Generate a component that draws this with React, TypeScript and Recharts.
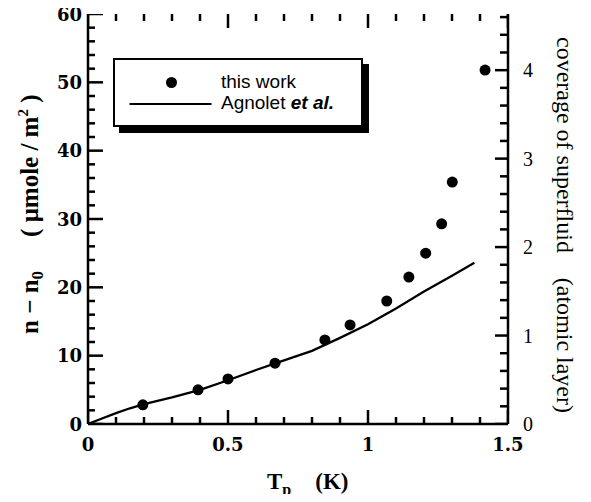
import React from "react";
import { ScatterChart, Scatter, XAxis, YAxis, Legend, Label } from "recharts";

// ---- data ----
const thisWorkT = [0.196, 0.393, 0.5, 0.668, 0.846, 0.936, 1.067, 1.146, 1.206, 1.263, 1.301, 1.418];
const thisWorkN = [2.8, 5.0, 6.6, 8.9, 12.3, 14.5, 18.0, 21.5, 25.0, 29.3, 35.4, 51.8];

const agnoletT = [0, 0.05, 0.1, 0.15, 0.2, 0.3, 0.4, 0.5, 0.6, 0.7, 0.8, 0.9, 1.0, 1.1, 1.2, 1.3, 1.38];
const agnoletN = [0, 0.8, 1.6, 2.3, 2.9, 3.9, 5.0, 6.4, 7.9, 9.3, 10.7, 12.6, 14.6, 16.9, 19.4, 21.7, 23.6];

const xTicks = [0, 0.1, 0.2, 0.3, 0.4, 0.5, 0.6, 0.7, 0.8, 0.9, 1.0, 1.1, 1.2, 1.3, 1.4, 1.5];
const xLabels = [0, 0.5, 1, 1.5];
const leftTicks = [0, 2, 4, 6, 8, 10, 12, 14, 16, 18, 20, 22, 24, 26, 28, 30, 32, 34, 36, 38, 40, 42, 44, 46, 48, 50, 52, 54, 56, 58, 60];
const leftLabels = [0, 10, 20, 30, 40, 50, 60];
const rightTicks = [0, 0.2, 0.4, 0.6, 0.8, 1, 1.2, 1.4, 1.6, 1.8, 2, 2.2, 2.4, 2.6, 2.8, 3, 3.2, 3.4, 3.6, 3.8, 4, 4.2, 4.4, 4.6];
const rightLabels = [0, 1, 2, 3, 4];
const X_MIN = 0;
const X_MAX = 1.5;
const Y_MIN = 0;
const Y_MAX = 60;
const RIGHT_MAX = 4.635; // atomic layers corresponding to 60 µmole/m²

const thisWork = thisWorkT.map((t, i) => ({ t, n: thisWorkN[i] }));
const agnolet = agnoletT.map((t, i) => ({ t, n: agnoletN[i] }));

// inward tick marks, positioned through the axis scales
const bottomMarks = xTicks.map((t) => ({ t, n: Y_MIN, major: xLabels.some((a) => Math.abs(a - t) < 1e-6) }));
const topMarks = xTicks.map((t) => ({ t, n: Y_MAX, major: xLabels.some((a) => Math.abs(a - t) < 1e-6) }));
const leftMarks = leftTicks.map((n) => ({ t: X_MIN, n, major: leftLabels.includes(n) }));
const rightMarks = rightTicks.map((r) => ({ t: X_MAX, r, major: rightLabels.some((a) => Math.abs(a - r) < 1e-6) }));

const SERIF = "'Liberation Serif', 'Times New Roman', serif";
const WIDE_SERIF = "'DejaVu Serif', serif";
const SANS = "'Liberation Sans', Arial, Helvetica, sans-serif";
const INK = "black";

const isIn = (v: number, arr: number[]) => arr.some((a) => Math.abs(a - v) < 1e-6);

const BottomTick = (props: any) => {
  const x = Number(props.x);
  const y = Number(props.y);
  const v = props.payload.value;
  if (!isIn(v, xLabels)) return <g />;
  return (
    <text x={x} y={y + 27} textAnchor="middle" fontFamily={WIDE_SERIF} fontWeight="bold" fontSize={18} fill={INK}>
      {String(xLabels.find((a) => Math.abs(a - v) < 1e-6))}
    </text>
  );
};

const LeftTick = (props: any) => {
  const x = Number(props.x);
  const y = Number(props.y);
  const v = props.payload.value;
  if (!isIn(v, leftLabels)) return <g />;
  return (
    <text x={x - 6} y={y + 6.5} textAnchor="end" fontFamily={WIDE_SERIF} fontWeight="bold" fontSize={18} fill={INK}>
      {String(v)}
    </text>
  );
};

const RightTick = (props: any) => {
  const x = Number(props.x);
  const y = Number(props.y);
  const v = props.payload.value;
  if (!isIn(v, rightLabels)) return <g />;
  return (
    <text x={x + 15} y={y + 7} textAnchor="start" fontFamily={SERIF} fontSize={20} fill={INK}>
      {String(Math.round(v))}
    </text>
  );
};

const BottomMark = (props: any) => {
  const { cx, cy, payload } = props;
  const len = payload && payload.major ? 14 : 7;
  return <path d={`M${cx},${cy} L${cx},${cy - len}`} stroke={INK} strokeWidth={2.5} />;
};
const TopMark = (props: any) => {
  const { cx, cy, payload } = props;
  const len = payload && payload.major ? 14 : 7;
  return <path d={`M${cx},${cy} L${cx},${cy + len}`} stroke={INK} strokeWidth={2.5} />;
};
const LeftMark = (props: any) => {
  const { cx, cy, payload } = props;
  const len = payload && payload.major ? 15 : 7;
  return <path d={`M${cx},${cy} L${cx + len},${cy}`} stroke={INK} strokeWidth={2.5} />;
};
const RightMark = (props: any) => {
  const { cx, cy, payload } = props;
  const len = payload && payload.major ? 13 : 8;
  return <path d={`M${cx},${cy} L${cx - len},${cy}`} stroke={INK} strokeWidth={2.5} />;
};

const LeftTitle = () => (
  <text
    x={38}
    y={334}
    transform="rotate(-90, 38, 334)"
    textAnchor="start"
    fontFamily={SERIF}
    fontWeight="bold"
    fontSize={25}
    fill={INK}
    style={{ whiteSpace: "pre" }}
  >
    <tspan>{"n − n"}</tspan>
    <tspan fontSize={17} dy={5}>0</tspan>
    <tspan dy={-5} dx={34}>{"( μmole / m"}</tspan>
    <tspan fontSize={15} dy={-10}>2</tspan>
    <tspan dy={10}>{" )"}</tspan>
  </text>
);

const RightTitle = () => (
  <g fontFamily={SERIF} fontSize={24} fill={INK}>
    <text x={557} y={37} transform="rotate(90, 557, 37)" textAnchor="start">
      coverage of superfluid
    </text>
    <text x={557} y={413} transform="rotate(90, 557, 413)" textAnchor="end">
      (atomic layer)
    </text>
  </g>
);

const XTitle = () => (
  <text x={267} y={489} textAnchor="start" fontFamily={SERIF} fontWeight="bold" fontSize={23} fill={INK} style={{ whiteSpace: "pre" }}>
    <tspan>T</tspan>
    <tspan fontSize={16} dy={6}>p</tspan>
    <tspan dy={-6} dx={24}>(K)</tspan>
  </text>
);

const LegendBox = () => (
  <div
    style={{
      position: "relative",
      boxSizing: "border-box",
      width: 250,
      height: 69,
      border: "2.5px solid #000",
      boxShadow: "6px 6px 0 #000",
      background: "#fff",
    }}
  >
    <svg width={245} height={64} style={{ position: "absolute", left: 0, top: 0 }}>
      <circle cx={56.5} cy={22.5} r={5.5} fill={INK} />
      <path d="M14.5,44 L96.5,44" stroke={INK} strokeWidth={2.2} fill="none" />
    </svg>
    <div style={{ position: "absolute", left: 106, top: 12, fontFamily: SANS, fontSize: 19, lineHeight: "20px", color: "#000", whiteSpace: "nowrap" }}>
      this work
    </div>
    <div style={{ position: "absolute", left: 106, top: 33, fontFamily: SANS, fontSize: 19, lineHeight: "20px", color: "#000", whiteSpace: "nowrap" }}>
      Agnolet <span style={{ fontStyle: "italic", fontWeight: "bold" }}>et al.</span>
    </div>
  </div>
);

const Dot = (props: any) => {
  const { cx, cy } = props;
  return <circle cx={cx} cy={cy} r={5.5} fill={INK} />;
};

const NoShape = () => <g />;

export default function App() {
  return (
    <div style={{ margin: -8, width: 591, height: 502, background: "#fff" }}>
      <ScatterChart width={591} height={502} margin={{ top: 14, right: 0, bottom: 0, left: 0 }}>
        <XAxis
          xAxisId="bottom"
          dataKey="t"
          type="number"
          domain={[X_MIN, X_MAX]}
          ticks={xTicks}
          interval={0}
          allowDataOverflow
          height={78}
          tickSize={0}
          tickMargin={0}
          tickLine={false}
          axisLine={{ stroke: INK, strokeWidth: 2.5 }}
          tick={<BottomTick />}
        >
          <Label content={<XTitle />} />
        </XAxis>
        <XAxis
          xAxisId="top"
          orientation="top"
          dataKey="t"
          type="number"
          domain={[X_MIN, X_MAX]}
          ticks={xTicks}
          allowDataOverflow
          height={0}
          tickSize={0}
          tickLine={false}
          tick={false}
          axisLine={{ stroke: INK, strokeWidth: 2.5 }}
        />
        <YAxis
          yAxisId="left"
          dataKey="n"
          type="number"
          domain={[Y_MIN, Y_MAX]}
          ticks={leftTicks}
          interval={0}
          allowDataOverflow
          width={88}
          tickSize={0}
          tickMargin={0}
          tickLine={false}
          axisLine={{ stroke: INK, strokeWidth: 2.5 }}
          tick={<LeftTick />}
        >
          <Label content={<LeftTitle />} />
        </YAxis>
        <YAxis
          yAxisId="right"
          orientation="right"
          dataKey="r"
          type="number"
          domain={[0, RIGHT_MAX]}
          ticks={rightTicks}
          interval={0}
          allowDataOverflow
          width={83}
          tickSize={0}
          tickMargin={0}
          tickLine={false}
          axisLine={{ stroke: INK, strokeWidth: 2.5 }}
          tick={<RightTick />}
        >
          <Label content={<RightTitle />} />
        </YAxis>
        <Legend
          layout="horizontal"
          verticalAlign="middle"
          align="center"
          wrapperStyle={{ left: 113, top: 58, width: 250, height: 69 }}
          content={() => <LegendBox />}
        />
        <Scatter data={bottomMarks} xAxisId="bottom" yAxisId="left" shape={<BottomMark />} isAnimationActive={false} legendType="none" />
        <Scatter data={topMarks} xAxisId="bottom" yAxisId="left" shape={<TopMark />} isAnimationActive={false} legendType="none" />
        <Scatter data={leftMarks} xAxisId="bottom" yAxisId="left" shape={<LeftMark />} isAnimationActive={false} legendType="none" />
        <Scatter data={rightMarks} xAxisId="bottom" yAxisId="right" shape={<RightMark />} isAnimationActive={false} legendType="none" />
        <Scatter
          name="Agnolet et al."
          data={agnolet}
          xAxisId="bottom"
          yAxisId="left"
          line={{ stroke: INK, strokeWidth: 2.3 }}
          lineType="joint"
          shape={<NoShape />}
          isAnimationActive={false}
        />
        <Scatter
          name="this work"
          data={thisWork}
          xAxisId="bottom"
          yAxisId="left"
          fill={INK}
          shape={<Dot />}
          isAnimationActive={false}
        />
      </ScatterChart>
    </div>
  );
}
